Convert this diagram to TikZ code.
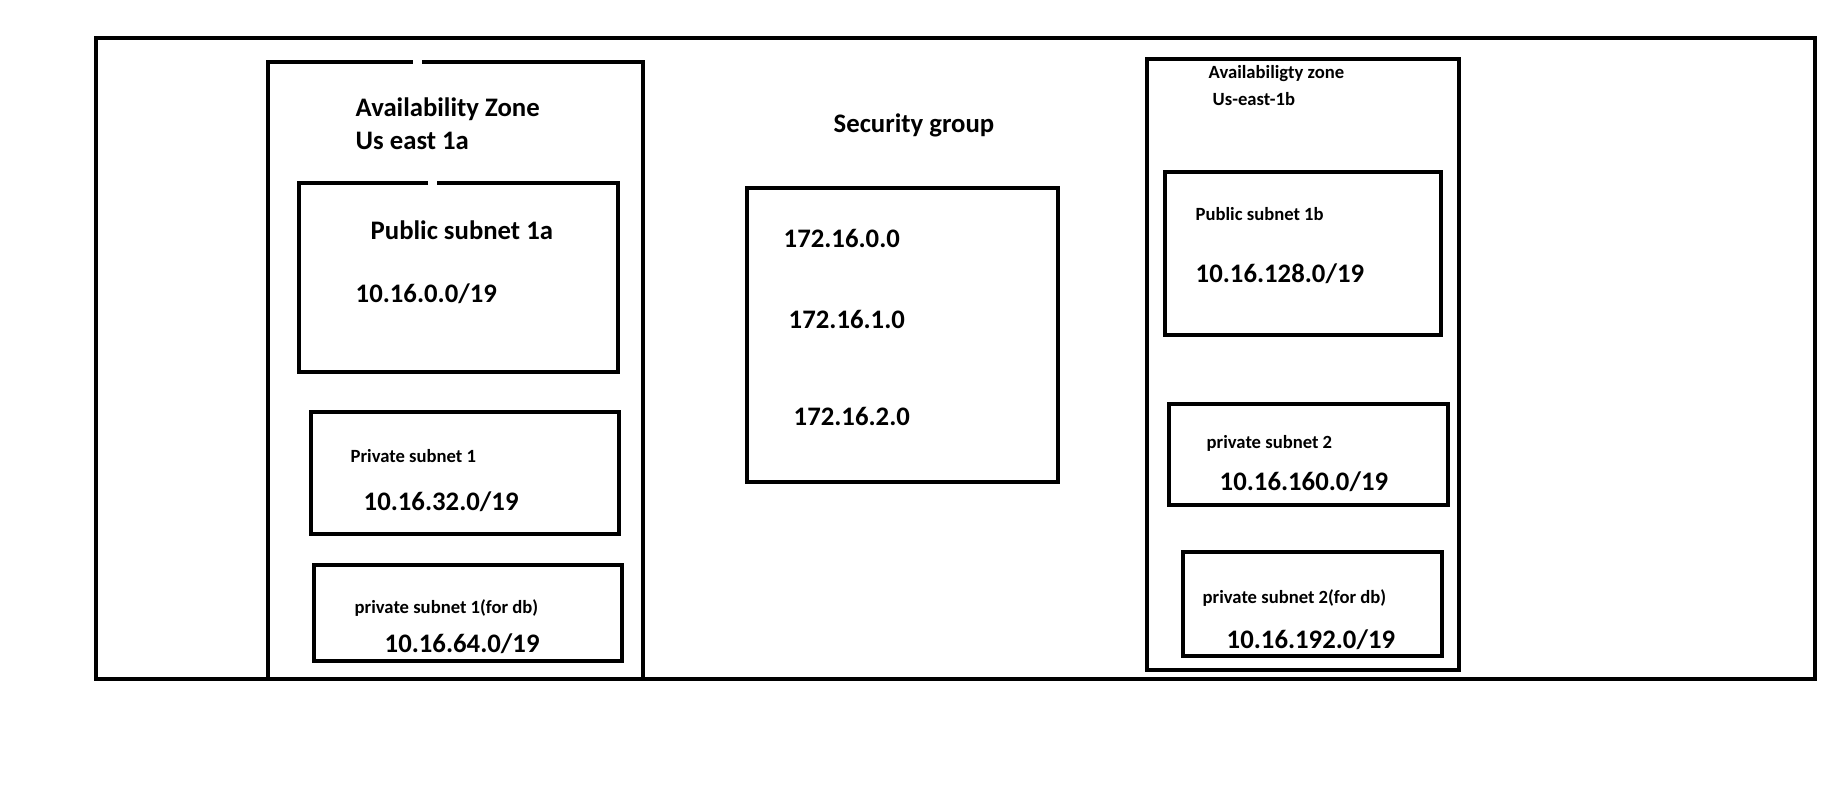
\documentclass[tikz,border=0pt]{standalone}
\usepackage{fontspec}
\setmainfont{Carlito}
\usetikzlibrary{calc}
\tikzset{
  box/.style={draw,line width=1.4pt},
  bigtxt/.style={font=\fontsize{7.6}{9}\bfseries\selectfont,anchor=base west,inner sep=0pt},
  smalltxt/.style={font=\fontsize{5.3}{6}\bfseries\selectfont,anchor=base west,inner sep=0pt}
}

\begin{document}
\begin{tikzpicture}[x=0.01cm,y=-0.01cm]
\useasboundingbox (0,0) rectangle (1824,800);

% outer frame
\draw[box] (96,38) rectangle (1815,679);

% zone 1a
\draw[box] (268,679) -- (268,62) -- (413,62);
\draw[box] (422,62) -- (643,62) -- (643,679);
\node[bigtxt] (azA) at (355,116) {Availability Zone};
\node[bigtxt] (azAname) at (355,149) {Us east 1a};

\draw[box] (428,183) -- (299,183) -- (299,372) -- (618,372) -- (618,183) -- (437,183);
\node[bigtxt] (pubA) at (370,239) {Public subnet 1a};
\node[bigtxt] (pubAip) at (355,302) {10.16.0.0/19};

\draw[box] (311,412) rectangle (619,534);
\node[smalltxt] (privA) at (350,462) {Private subnet 1};
\node[bigtxt] (privAip) at (363,510) {10.16.32.0/19};

\draw[box] (314,565) rectangle (622,661);
\node[smalltxt] (dbA) at (354,613) {private subnet 1(for db)};
\node[bigtxt] (dbAip) at (384,652) {10.16.64.0/19};

% security group
\node[bigtxt] (sg) at (833,132) {Security group};
\draw[box] (747,188) rectangle (1058,482);
\node[bigtxt] (sgA) at (783,247) {172.16.0.0};
\node[bigtxt] (sgB) at (788,328) {172.16.1.0};
\node[bigtxt] (sgC) at (793,425) {172.16.2.0};

% zone 1b
\draw[box] (1147,59) rectangle (1459,670);
\node[smalltxt] (azB) at (1208,78) {Availabiligty zone};
\node[smalltxt] (azBname) at (1212,105) {Us-east-1b};

\draw[box] (1165,172) rectangle (1441,335);
\node[smalltxt] (pubB) at (1195,220) {Public subnet 1b};
\node[bigtxt] (pubBip) at (1195,282) {10.16.128.0/19};

\draw[box] (1169,404) rectangle (1448,505);
\node[smalltxt] (privB) at (1206,448) {private subnet 2};
\node[bigtxt] (privBip) at (1219,490) {10.16.160.0/19};

\draw[box] (1183,552) rectangle (1442,656);
\node[smalltxt] (dbB) at (1202,603) {private subnet 2(for db)};
\node[bigtxt] (dbBip) at (1226,648) {10.16.192.0/19};

\end{tikzpicture}
\end{document}
